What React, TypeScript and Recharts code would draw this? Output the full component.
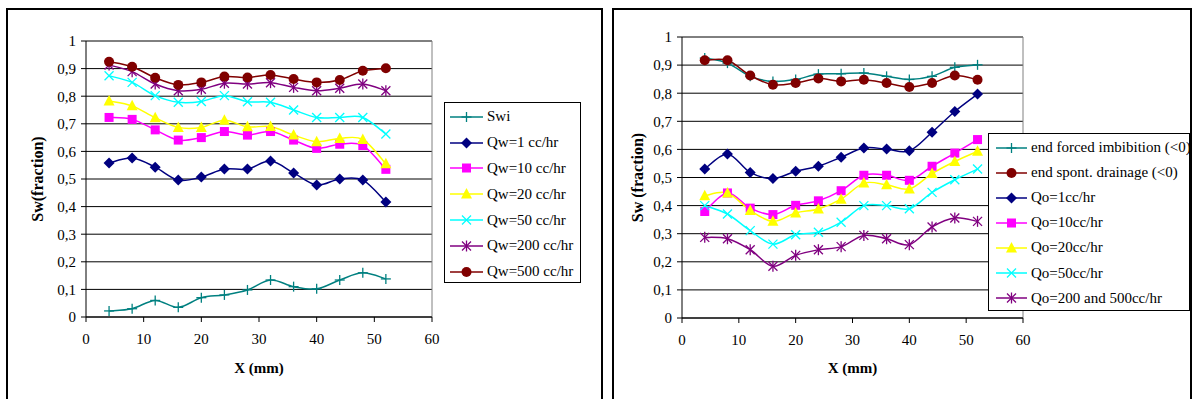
import React from 'react';
import { LineChart, Line, XAxis, YAxis, CartesianGrid, Legend, ReferenceLine } from 'recharts';

const FONT = "'Liberation Serif', 'Times New Roman', Times, 'DejaVu Serif', serif";

// positions along the core, mm
const xMm = [4, 8, 12, 16, 20, 24, 28, 32, 36, 40, 44, 48, 52];
const xTicks = [0, 10, 20, 30, 40, 50, 60];
const yTicks = [0, 0.1, 0.2, 0.3, 0.4, 0.5, 0.6, 0.7, 0.8, 0.9, 1];

// left chart: imbibition
const swi = [0.022, 0.03, 0.06, 0.035, 0.07, 0.08, 0.098, 0.134, 0.11, 0.102, 0.134, 0.16, 0.138];
const qw1 = [0.558, 0.576, 0.543, 0.496, 0.507, 0.536, 0.536, 0.565, 0.522, 0.478, 0.5, 0.496, 0.417];
const qw10 = [0.723, 0.716, 0.678, 0.641, 0.65, 0.672, 0.659, 0.672, 0.641, 0.611, 0.626, 0.621, 0.535];
const qw20 = [0.783, 0.765, 0.722, 0.687, 0.687, 0.713, 0.689, 0.69, 0.659, 0.635, 0.647, 0.643, 0.555];
const qw50 = [0.874, 0.85, 0.802, 0.778, 0.781, 0.802, 0.78, 0.778, 0.75, 0.723, 0.723, 0.723, 0.663];
const qw200 = [0.913, 0.889, 0.844, 0.82, 0.825, 0.847, 0.844, 0.849, 0.832, 0.82, 0.829, 0.844, 0.82];
const qw500 = [0.925, 0.907, 0.867, 0.841, 0.85, 0.871, 0.868, 0.877, 0.862, 0.85, 0.859, 0.892, 0.901];

// right chart: drainage
const endForcedImb = [0.925, 0.907, 0.86, 0.842, 0.849, 0.868, 0.869, 0.872, 0.86, 0.849, 0.86, 0.892, 0.901];
const endSpontDrain = [0.917, 0.917, 0.863, 0.83, 0.836, 0.852, 0.842, 0.848, 0.836, 0.822, 0.836, 0.863, 0.848];
const qo1 = [0.53, 0.584, 0.518, 0.496, 0.522, 0.54, 0.572, 0.605, 0.601, 0.595, 0.661, 0.735, 0.797];
const qo10 = [0.379, 0.445, 0.391, 0.368, 0.401, 0.417, 0.453, 0.508, 0.508, 0.49, 0.54, 0.587, 0.635];
const qo20 = [0.435, 0.445, 0.383, 0.344, 0.374, 0.388, 0.423, 0.48, 0.474, 0.459, 0.514, 0.557, 0.593];
const qo50 = [0.4, 0.37, 0.311, 0.263, 0.296, 0.305, 0.341, 0.4, 0.4, 0.389, 0.447, 0.492, 0.53];
const qo200500 = [0.287, 0.282, 0.243, 0.184, 0.223, 0.243, 0.254, 0.294, 0.282, 0.261, 0.324, 0.356, 0.344];

type Shape = 'plus' | 'diamond' | 'square' | 'triangle' | 'x' | 'star' | 'circle';
type Series = { key: string; name: string; color: string; shape: Shape; values: number[] };

const leftSeries: Series[] = [
  { key: 'swi', name: 'Swi', color: '#008080', shape: 'plus', values: swi },
  { key: 'qw1', name: 'Qw=1 cc/hr', color: '#000080', shape: 'diamond', values: qw1 },
  { key: 'qw10', name: 'Qw=10 cc/hr', color: '#FF00FF', shape: 'square', values: qw10 },
  { key: 'qw20', name: 'Qw=20 cc/hr', color: '#FFFF00', shape: 'triangle', values: qw20 },
  { key: 'qw50', name: 'Qw=50 cc/hr', color: '#00FFFF', shape: 'x', values: qw50 },
  { key: 'qw200', name: 'Qw=200 cc/hr', color: '#800080', shape: 'star', values: qw200 },
  { key: 'qw500', name: 'Qw=500 cc/hr', color: '#800000', shape: 'circle', values: qw500 },
];

const rightSeries: Series[] = [
  { key: 'efi', name: 'end forced imbibition (<0)', color: '#008080', shape: 'plus', values: endForcedImb },
  { key: 'esd', name: 'end spont. drainage (<0)', color: '#800000', shape: 'circle', values: endSpontDrain },
  { key: 'qo1', name: 'Qo=1cc/hr', color: '#000080', shape: 'diamond', values: qo1 },
  { key: 'qo10', name: 'Qo=10cc/hr', color: '#FF00FF', shape: 'square', values: qo10 },
  { key: 'qo20', name: 'Qo=20cc/hr', color: '#FFFF00', shape: 'triangle', values: qo20 },
  { key: 'qo50', name: 'Qo=50cc/hr', color: '#00FFFF', shape: 'x', values: qo50 },
  { key: 'qo200', name: 'Qo=200 and 500cc/hr', color: '#800080', shape: 'star', values: qo200500 },
];

const buildRows = (series: Series[]) =>
  xMm.map((x, i) => {
    const row: Record<string, number> = { x };
    series.forEach((s) => (row[s.key] = s.values[i]));
    return row;
  });

// Excel-like smoothed line (cardinal spline through the points)
const excelSmooth = (context: any) => {
  let pts: number[][] = [];
  return {
    areaStart() {},
    areaEnd() {},
    lineStart() {
      pts = [];
    },
    point(x: number, y: number) {
      pts.push([+x, +y]);
    },
    lineEnd() {
      if (!pts.length) return;
      context.moveTo(pts[0][0], pts[0][1]);
      for (let i = 0; i < pts.length - 1; i++) {
        const p0 = pts[i - 1] || pts[i];
        const p1 = pts[i];
        const p2 = pts[i + 1];
        const p3 = pts[i + 2] || p2;
        context.bezierCurveTo(
          p1[0] + (p2[0] - p0[0]) / 6,
          p1[1] + (p2[1] - p0[1]) / 6,
          p2[0] - (p3[0] - p1[0]) / 6,
          p2[1] - (p3[1] - p1[1]) / 6,
          p2[0],
          p2[1]
        );
      }
    },
  };
};

function Marker({ shape, cx, cy, color }: { shape: Shape; cx: number; cy: number; color: string }) {
  switch (shape) {
    case 'plus':
      return (
        <g stroke={color} strokeWidth={1.3}>
          <line x1={cx - 5} y1={cy} x2={cx + 5} y2={cy} />
          <line x1={cx} y1={cy - 5} x2={cx} y2={cy + 5} />
        </g>
      );
    case 'diamond':
      return <polygon points={`${cx},${cy - 5.5} ${cx + 5.5},${cy} ${cx},${cy + 5.5} ${cx - 5.5},${cy}`} fill={color} />;
    case 'square':
      return <rect x={cx - 4.5} y={cy - 4.5} width={9} height={9} fill={color} />;
    case 'triangle':
      return <polygon points={`${cx},${cy - 6} ${cx + 5.5},${cy + 4.5} ${cx - 5.5},${cy + 4.5}`} fill={color} />;
    case 'x':
      return (
        <g stroke={color} strokeWidth={1.3}>
          <line x1={cx - 4.5} y1={cy - 4.5} x2={cx + 4.5} y2={cy + 4.5} />
          <line x1={cx - 4.5} y1={cy + 4.5} x2={cx + 4.5} y2={cy - 4.5} />
        </g>
      );
    case 'star':
      return (
        <g stroke={color} strokeWidth={1.3}>
          <line x1={cx - 4.5} y1={cy - 4.5} x2={cx + 4.5} y2={cy + 4.5} />
          <line x1={cx - 4.5} y1={cy + 4.5} x2={cx + 4.5} y2={cy - 4.5} />
          <line x1={cx} y1={cy - 5.5} x2={cx} y2={cy + 5.5} />
        </g>
      );
    default:
      return <circle cx={cx} cy={cy} r={5} fill={color} />;
  }
}

const yFormat = (v: number) => (v === 0 || v === 1 ? String(v) : v.toFixed(1).replace('.', ','));

const makeLegend = (series: Series[], rowH: number, padLeft: number, sample: number) => () => (
  <div
    style={{
      boxSizing: 'border-box',
      width: '100%',
      height: '100%',
      border: '1px solid #000',
      background: '#fff',
      paddingTop: 1,
      paddingLeft: padLeft,
      fontFamily: FONT,
      fontSize: 15,
      color: '#000',
    }}
  >
    {series.map((s) => (
      <div key={s.key} style={{ display: 'flex', alignItems: 'center', height: rowH, whiteSpace: 'nowrap' }}>
        <svg width={sample + 3} height={14} style={{ flex: 'none' }}>
          <line x1={0} y1={7} x2={sample} y2={7} stroke={s.color} strokeWidth={1.5} />
          <Marker shape={s.shape} cx={sample / 2} cy={7} color={s.color} />
        </svg>
        <span style={{ marginLeft: 1 }}>{s.name}</span>
      </div>
    ))}
  </div>
);

const yTitle = (text: string, x: number) => (props: any) => {
  const vb = props.viewBox;
  const cy = vb.y + vb.height / 2;
  return (
    <text
      x={x}
      y={cy}
      transform={`rotate(-90 ${x} ${cy})`}
      textAnchor="middle"
      dominantBaseline="central"
      style={{ fontFamily: FONT, fontSize: 16, fontWeight: 'bold' }}
      fill="#000"
    >
      {text}
    </text>
  );
};

const xTitle = (text: string, y: number) => (props: any) => {
  const vb = props.viewBox;
  return (
    <text
      x={vb.x + vb.width / 2}
      y={y}
      textAnchor="middle"
      dominantBaseline="central"
      style={{ fontFamily: FONT, fontSize: 15, fontWeight: 'bold' }}
      fill="#000"
    >
      {text}
    </text>
  );
};

type PanelProps = {
  series: Series[];
  width: number;
  margin: { top: number; right: number; bottom: number; left: number };
  yWidth: number;
  yLabel: string;
  yLabelX: number;
  legendBox: { left: number; top: number; width: number; height: number };
  legendRow: number;
  legendPad: number;
  legendSample: number;
};

function Panel(p: PanelProps) {
  const rows = buildRows(p.series);
  const tickStyle = { fill: '#000', fontSize: 15, style: { fontFamily: FONT } };
  return (
    <LineChart width={p.width} height={399} data={rows} margin={p.margin} style={{ fontFamily: FONT }}>
      <CartesianGrid vertical={false} stroke="#000" strokeWidth={1} />
      <XAxis
        type="number"
        dataKey="x"
        domain={[0, 60]}
        ticks={xTicks}
        tick={tickStyle}
        tickSize={5}
        tickMargin={11}
        height={30}
        axisLine={{ stroke: '#000' }}
        tickLine={{ stroke: '#000' }}
        label={{ content: xTitle('X (mm)', 368) }}
      />
      <YAxis
        type="number"
        domain={[0, 1]}
        ticks={yTicks}
        tickFormatter={yFormat}
        tick={tickStyle}
        tickSize={5}
        tickMargin={5}
        width={p.yWidth}
        axisLine={{ stroke: '#000' }}
        tickLine={{ stroke: '#000' }}
        label={{ content: yTitle(p.yLabel, p.yLabelX) }}
      />
      <ReferenceLine y={1} stroke="#808080" />
      <ReferenceLine x={60} stroke="#808080" />
      {p.series.map((s) => (
        <Line
          key={s.key}
          dataKey={s.key}
          name={s.name}
          type={excelSmooth as any}
          stroke={s.color}
          strokeWidth={1.5}
          dot={(d: any) => <Marker key={`${s.key}-${d.index}`} shape={s.shape} cx={d.cx} cy={d.cy} color={s.color} />}
          activeDot={false}
          isAnimationActive={false}
        />
      ))}
      <Legend
        layout="vertical"
        align="center"
        verticalAlign="middle"
        wrapperStyle={p.legendBox}
        content={makeLegend(p.series, p.legendRow, p.legendPad, p.legendSample)}
      />
    </LineChart>
  );
}

export default function App() {
  return (
    <div style={{ position: 'absolute', left: 0, top: 0, width: 1195, height: 399, overflow: 'hidden', background: '#fff', fontFamily: FONT }}>
      <div style={{ position: 'absolute', left: 6, top: 8, width: 597, height: 400, border: '2px solid #000', boxSizing: 'border-box' }} />
      <div style={{ position: 'absolute', left: 612, top: 8, width: 580, height: 400, border: '2px solid #000', boxSizing: 'border-box' }} />
      <div style={{ position: 'absolute', left: 0, top: 0 }}>
        <Panel
          series={leftSeries}
          width={600}
          margin={{ top: 41, right: 168, bottom: 52, left: 0 }}
          yWidth={86}
          yLabel="Sw(fraction)"
          yLabelX={37}
          legendBox={{ left: 444, top: 102, width: 137, height: 181 }}
          legendRow={25.8}
          legendPad={5}
          legendSample={33}
        />
      </div>
      <div style={{ position: 'absolute', left: 600, top: 0 }}>
        <Panel
          series={rightSeries}
          width={595}
          margin={{ top: 37, right: 172, bottom: 51, left: 0 }}
          yWidth={82}
          yLabel="Sw (fraction)"
          yLabelX={37}
          legendBox={{ left: 388, top: 133, width: 202, height: 178 }}
          legendRow={25.1}
          legendPad={7}
          legendSample={31}
        />
      </div>
    </div>
  );
}
